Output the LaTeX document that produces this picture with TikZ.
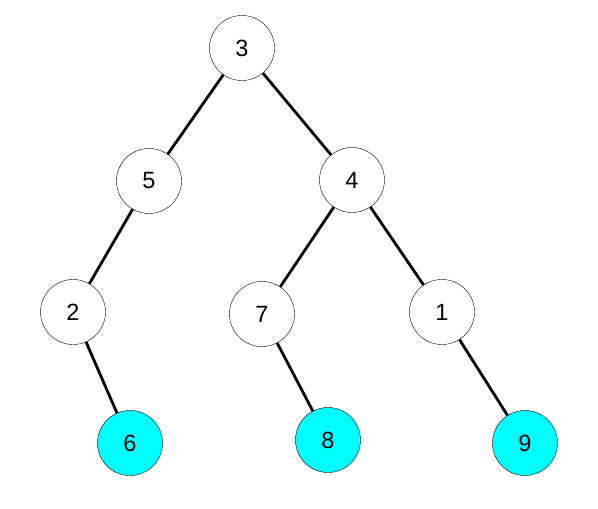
\documentclass[tikz,border=0pt]{standalone}
\usepackage{fontspec}
\setmainfont{Liberation Sans}
\definecolor{aqua}{RGB}{0,255,255}
\begin{document}
\begin{tikzpicture}[x=1pt,y=-1pt,
    vertex/.style={circle,draw,thin,minimum size=65pt,inner sep=0pt,font=\fontsize{23.5}{26}\selectfont},
    leaf/.style={vertex,fill=aqua},
    branch/.style={line width=2.8pt}]
            \useasboundingbox (0,0) rectangle (598,509);
            \node[vertex] (n3) at (242,48) {3};
            \node[vertex] (n5) at (149,181) {5};
            \node[vertex] (n4) at (352,180) {4};
            \node[vertex] (n2) at (73,312) {2};
            \node[vertex] (n7) at (262,314) {7};
            \node[vertex] (n1) at (442,312) {1};
            \node[leaf] (n6) at (130,443) {6};
            \node[leaf] (n8) at (328,440) {8};
            \node[leaf] (n9) at (525,443) {9};
            \draw[branch] (n3)--(n5);
            \draw[branch] (n3)--(n4);
            \draw[branch] (n5)--(n2);
            \draw[branch] (n4)--(n7);
            \draw[branch] (n4)--(n1);
            \draw[branch] (n2)--(n6);
            \draw[branch] (n7)--(n8);
            \draw[branch] (n1)--(n9);
        \end{tikzpicture}
\end{document}
